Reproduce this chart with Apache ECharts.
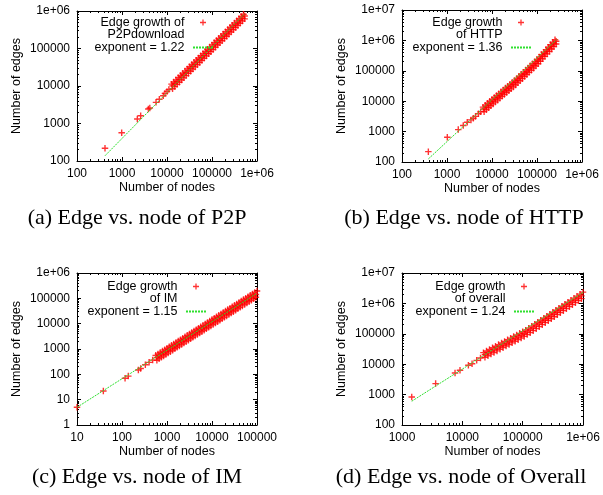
<!DOCTYPE html>
<html>
<head>
<meta charset="utf-8">
<script src="https://cdn.jsdelivr.net/npm/echarts@6/dist/echarts.min.js"></script>
<style>
  html, body { margin: 0; padding: 0; background: #fff; }
  #chart { width: 603px; height: 495px; }
</style>
</head>
<body>
<div id="chart"></div>
<script>
// (a) P2P: sparse early points, then upper edge, lower edge and middle of the dense band
var p2pNodes = [419, 984, 2190, 2600, 3850, 4150, 5700, 6760, 8280, 9000, 10000, 11000,
  12600, 14100, 15800, 17800, 20000, 22400, 25100, 28200, 31600, 35500, 39800, 44700, 50100, 56200, 63100, 70800, 79400, 89100, 100000, 112200, 125900, 141300, 158500, 177800, 199500, 223900, 251200, 281800, 316200, 354800, 398100, 446700, 501200,
  13300, 14900, 16800, 18800, 21100, 23700, 26600, 29900, 33500, 37600, 42200, 47300, 53100, 59600, 66800, 75000, 84100, 94400, 105900, 118900, 133400, 149600, 167900, 188400, 211300, 237100, 266100, 298500, 335000, 375800, 421700, 473200, 530900,
  13300, 14900, 16800, 18800, 21100, 23700, 26600, 29900, 33500, 37600, 42200, 47300, 53100, 59600, 66800, 75000, 84100, 94400, 105900, 118900, 133400, 149600, 167900, 188400, 211300, 237100, 266100, 298500, 335000, 375800, 421700, 473200, 530900];
var p2pEdges = [218, 568, 1318, 1614, 2437, 2600, 3670, 4420, 5500, 6350, 7180, 8020,
  11200, 12800, 14600, 16700, 19100, 21800, 25000, 28600, 32700, 37300, 42700, 48900, 55800, 63800, 72900, 83400, 95500, 109000, 124700, 142600, 163300, 186600, 213300, 243800, 279300, 319200, 364800, 416900, 477500, 545800, 623700, 712900, 816600,
  8480, 9690, 11050, 12640, 14460, 16500, 18930, 21650, 24750, 28240, 32320, 37020, 42240, 48300, 55190, 63130, 72290, 82510, 94400, 107900, 123600, 141300, 161500, 184600, 211400, 241600, 276200, 315600, 361500, 413200, 472100, 539700, 618200,
  10080, 11520, 13130, 15020, 17190, 19610, 22500, 25730, 29420, 33560, 38410, 44000, 50200, 57400, 65590, 75030, 85920, 98060, 112200, 128200, 146900, 167900, 191900, 219400, 251200, 287100, 328300, 375100, 429600, 491100, 561100, 641400, 734700];
var p2pFitNodes = [419, 530000];
var p2pFitEdges = [138, 840000];

// (b) HTTP
var httpNodes = [385, 1016, 1780, 2300, 2820, 3410, 3850, 4300, 5000, 5600,
  6310, 7080, 7940, 8910, 10000, 11220, 12590, 14130, 15850, 17780, 19950, 22390, 25120, 28180, 31620, 35480, 39810, 44670, 50120, 56230, 63100, 70790, 79430, 89130, 100000, 112200, 125900, 141300, 158500, 177800, 199500, 223900, 251200,
  6680, 7500, 8410, 9440, 10590, 11890, 13340, 14960, 16790, 18840, 21130, 23710, 26610, 29850, 33500, 37580, 42170, 47320, 53090, 59570, 66830, 74990, 84140, 94410, 105900, 118900, 133400, 149600, 167900, 188400, 211300, 237100, 266100,
  6680, 7500, 8410, 9440, 10590, 11890, 13340, 14960, 16790, 18840, 21130, 23710, 26610, 29850, 33500, 37580, 42170, 47320, 53090, 59570, 66830, 74990, 84140, 94410, 105900, 118900, 133400, 149600, 167900, 188400, 211300, 237100, 266100];
var httpEdges = [219, 653, 1164, 1580, 2040, 2430, 2760, 3160, 3850, 4500,
  6380, 7400, 8570, 9910, 11480, 13240, 15280, 17620, 20320, 23440, 27040, 31190, 35970, 41500, 47860, 56100, 65770, 77090, 90360, 105900, 124200, 145500, 170600, 200000, 234400, 282500, 341200, 411100, 495500, 597000, 721100, 869000, 1047000,
  4540, 5260, 6090, 7050, 8150, 9400, 10840, 12500, 14420, 16630, 19190, 22130, 25530, 29440, 34270, 40150, 47100, 55210, 64710, 75860, 88920, 104200, 122200, 143200, 170200, 205100, 247700, 298500, 359700, 433500, 523600, 631000, 760300,
  5590, 6470, 7490, 8670, 10030, 11560, 13340, 15380, 17740, 20460, 23610, 27230, 31410, 36220, 42160, 49400, 57950, 67920, 79610, 93330, 109400, 128200, 150300, 176200, 209400, 252300, 304700, 367200, 442500, 533300, 644200, 776300, 935400];
var httpFitNodes = [385, 273000];
var httpFitEdges = [126, 1060000];

// (c) IM
var imNodes = [10, 38.5, 117, 138, 231, 260, 330, 400, 480,
  562, 631, 708, 794, 891, 1000, 1122, 1259, 1413, 1585, 1778, 1995, 2239, 2512, 2818, 3162, 3548, 3981, 4467, 5012, 5623, 6310, 7079, 7943, 8913, 10000, 11220, 12590, 14130, 15850, 17780, 19950, 22390, 25120, 28180, 31620, 35480, 39810, 44670, 50120, 56230, 63100, 70790, 79430, 89130, 100000,
  596, 668, 750, 841, 944, 1059, 1189, 1334, 1496, 1679, 1884, 2113, 2371, 2661, 2985, 3350, 3758, 4217, 4732, 5309, 5957, 6683, 7499, 8414, 9441, 10590, 11890, 13340, 14960, 16790, 18840, 21130, 23710, 26610, 29850, 33500, 37580, 42170, 47320, 53090, 59570, 66830, 74990, 84140, 94410,
  596, 668, 750, 841, 944, 1059, 1189, 1334, 1496, 1679, 1884, 2113, 2371, 2661, 2985, 3350, 3758, 4217, 4732, 5309, 5957, 6683, 7499, 8414, 9441, 10590, 11890, 13340, 14960, 16790, 18840, 21130, 23710, 26610, 29850, 33500, 37580, 42170, 47320, 53090, 59570, 66830, 74990, 84140, 94410];
var imEdges = [5, 22, 70, 85, 148, 170, 239, 297, 364,
  561, 638, 728, 828, 944, 1074, 1222, 1393, 1585, 1807, 2056, 2344, 2667, 3034, 3459, 3936, 4487, 5105, 5808, 6622, 7534, 8590, 9772, 11140, 12680, 14450, 16440, 18710, 21330, 24270, 27670, 31480, 35890, 40830, 46450, 52970, 60260, 68710, 78160, 89130, 101400, 115300, 131500, 149600, 170600, 194100,
  361, 410, 468, 532, 607, 690, 786, 895, 1019, 1162, 1322, 1507, 1714, 1950, 2223, 2530, 2884, 3282, 3733, 4257, 4843, 5522, 6281, 7161, 8151, 9288, 10570, 12030, 13710, 15600, 17790, 20240, 23070, 26250, 29860, 34050, 38740, 44170, 50240, 57290, 65180, 74120, 84530, 96160, 109700,
  465, 528, 603, 685, 782, 889, 1013, 1153, 1313, 1497, 1703, 1941, 2208, 2512, 2864, 3259, 3715, 4228, 4809, 5484, 6239, 7113, 8091, 9225, 10500, 11960, 13620, 15500, 17660, 20100, 22920, 26070, 29720, 33820, 38470, 43860, 49900, 56900, 64720, 73800, 83970, 95480, 108900, 123900, 141300];
var imFitNodes = [10, 97000];
var imFitEdges = [5, 155000];

// (d) overall
var allNodes = [1450, 3610, 7570, 9150, 12600, 14500, 17300, 20000,
  22390, 25120, 28180, 31620, 35480, 39810, 44670, 50120, 56230, 63100, 70790, 79430, 89130, 100000, 112200, 125900, 141300, 158500, 177800, 199500, 223900, 251200, 281800, 316200, 354800, 398100, 446700, 501200, 562300, 631000, 707900, 794300, 891300, 1000000,
  23710, 26610, 29850, 33500, 37580, 42170, 47320, 53090, 59570, 66830, 74990, 84140, 94410, 105900, 118900, 133400, 149600, 167900, 188400, 211300, 237100, 266100, 298500, 335000, 375800, 421700, 473200, 530900, 595700, 668300, 749900, 841400, 944100,
  23710, 26610, 29850, 33500, 37580, 42170, 47320, 53090, 59570, 66830, 74990, 84140, 94410, 105900, 118900, 133400, 149600, 167900, 188400, 211300, 237100, 266100, 298500, 335000, 375800, 421700, 473200, 530900, 595700, 668300, 749900, 841400, 944100];
var allEdges = [837, 2300, 5140, 6300, 9200, 10400, 13400, 16000,
  23990, 27100, 30620, 34590, 38990, 44060, 49770, 56230, 63530, 71780, 81100, 91410, 103300, 116700, 131800, 153500, 178200, 207500, 241000, 280500, 325800, 379300, 440600, 512900, 597000, 695000, 809100, 941900, 1096000, 1276000, 1486000, 1730000, 2014000, 2344000,
  16850, 19030, 21500, 24270, 27380, 30940, 34960, 39490, 44620, 50410, 56890, 64190, 72530, 81950, 93970, 109300, 127100, 147700, 171800, 199700, 232300, 270200, 314100, 365600, 425600, 495500, 576800, 671400, 781600, 909900, 1059000, 1233000, 1435000,
  20730, 23410, 26450, 29860, 33690, 38070, 43010, 48580, 54900, 62020, 69990, 78970, 89230, 100800, 115600, 134500, 156400, 181700, 211400, 245700, 285800, 332400, 386400, 449800, 523600, 609600, 709600, 826000, 961600, 1119000, 1303000, 1517000, 1765000];
var allFitNodes = [1450, 1000000];
var allFitEdges = [605, 2300000];

var seriesNames = ['Edge growth of\nP2Pdownload', 'Edge growth\nof HTTP', 'Edge growth\nof IM', 'Edge growth\nof overall'];
var fitNames = ['exponent = 1.22', 'exponent = 1.36', 'exponent = 1.15', 'exponent = 1.24'];
var captions = ['(a) Edge vs. node of P2P', '(b) Edge vs. node of HTTP', '(c) Edge vs. node of IM', '(d) Edge vs. node of Overall'];
var xRanges = [[100, 1e6], [100, 1e6], [10, 1e5], [1000, 1e6]];
var yRanges = [[100, 1e6], [100, 1e7], [1, 1e6], [100, 1e7]];

var SANS = '"Liberation Sans", Arial, sans-serif';
var SERIF = '"Liberation Serif", "Times New Roman", serif';
var PLUS = 'path://M2.75,0H4.25V2.75H7V4.25H4.25V7H2.75V4.25H0V2.75H2.75Z';
var RED = '#ff0000';
var GREEN = '#2fe02f';

var panels = [
  {grid: {left: 77, top: 11, width: 180, height: 150}, nodes: p2pNodes, edges: p2pEdges, fx: p2pFitNodes, fy: p2pFitEdges, legend: {right: 389, top: 4}, cap: [137, 218]},
  {grid: {left: 402, top: 10, width: 180, height: 152}, nodes: httpNodes, edges: httpEdges, fx: httpFitNodes, fy: httpFitEdges, legend: {right: 71, top: 4}, cap: [464, 218]},
  {grid: {left: 77, top: 273, width: 180, height: 152}, nodes: imNodes, edges: imEdges, fx: imFitNodes, fy: imFitEdges, legend: {right: 396, top: 268}, cap: [137, 477]},
  {grid: {left: 402, top: 273, width: 181, height: 152}, nodes: allNodes, edges: allEdges, fx: allFitNodes, fy: allFitEdges, legend: {right: 68, top: 268}, cap: [461, 477]}
];

function zip(xs, ys) {
  return xs.map(function (x, i) { return [x, ys[i]]; });
}

function tickLabel(v) {
  var e = Math.round(Math.log10(v));
  return e >= 6 ? '1e+0' + e : String(Math.pow(10, e));
}

// gnuplot key: first line next to the sample, text right-aligned with a small gap
function keyText(name) {
  var lines = name.split('\n');
  return (lines.length > 1 ? '\n' : '') + lines.map(function (s) { return s + ' '; }).join('\n');
}

function logAxis(i, range, position, main, name) {
  return {
    type: 'log',
    logBase: 10,
    gridIndex: i,
    min: range[0],
    max: range[1],
    position: position,
    axisLine: {show: true, lineStyle: {color: '#000', width: 1}},
    axisTick: {show: true, inside: true, length: 4, lineStyle: {color: '#000'}},
    minorTick: {show: true, splitNumber: 9, length: 2, lineStyle: {color: '#000'}},
    splitLine: {show: false},
    minorSplitLine: {show: false},
    axisLabel: {show: main, interval: 0, color: '#000', fontFamily: SANS, fontSize: 12, margin: 7, formatter: tickLabel},
    name: main ? name : '',
    nameLocation: 'middle',
    nameGap: position === 'bottom' ? 20 : 54,
    nameTextStyle: {color: '#000', fontFamily: SANS, fontSize: 12.5}
  };
}

var grids = [], xAxes = [], yAxes = [], series = [], legends = [], graphics = [];

panels.forEach(function (p, i) {
  grids.push(Object.assign({show: false, outerBoundsMode: 'none', containLabel: false}, p.grid));
  xAxes.push(logAxis(i, xRanges[i], 'bottom', true, 'Number of nodes'));
  yAxes.push(logAxis(i, yRanges[i], 'left', true, 'Number of edges'));
  series.push({
    type: 'scatter',
    name: seriesNames[i],
    xAxisIndex: i,
    yAxisIndex: i,
    data: zip(p.nodes, p.edges),
    symbol: PLUS,
    symbolSize: 6.5,
    itemStyle: {color: RED},
    silent: true,
    z: 2
  });
  series.push({
    type: 'line',
    name: fitNames[i],
    xAxisIndex: i,
    yAxisIndex: i,
    data: zip(p.fx, p.fy),
    symbol: 'none',
    showSymbol: false,
    lineStyle: {color: GREEN, width: 1, type: [2, 1]},
    itemStyle: {color: GREEN},
    silent: true,
    z: 3
  });
  legends.push({
    orient: 'vertical',
    align: 'right',
    right: p.legend.right,
    top: p.legend.top,
    padding: 0,
    itemGap: 0,
    itemWidth: 20,
    itemHeight: 6,
    selectedMode: false,
    formatter: keyText,
    textStyle: {color: '#000', fontFamily: SANS, fontSize: 12.5, lineHeight: 12},
    data: [seriesNames[i], {name: fitNames[i], itemStyle: {opacity: 0}}]
  });
  graphics.push({
    type: 'text',
    x: p.cap[0],
    y: p.cap[1],
    style: {text: captions[i], fill: '#000', font: '22px ' + SERIF, align: 'center', verticalAlign: 'middle'}
  });
});

// mirrored ticks on top and right, like the gnuplot frame
panels.forEach(function (p, i) {
  xAxes.push(logAxis(i, xRanges[i], 'top', false));
  yAxes.push(logAxis(i, yRanges[i], 'right', false));
});

var chart = echarts.init(document.getElementById('chart'), null, {renderer: 'canvas'});
chart.setOption({
  animation: false,
  backgroundColor: '#fff',
  grid: grids,
  xAxis: xAxes,
  yAxis: yAxes,
  legend: legends,
  series: series,
  graphic: graphics
});
</script>
</body>
</html>
